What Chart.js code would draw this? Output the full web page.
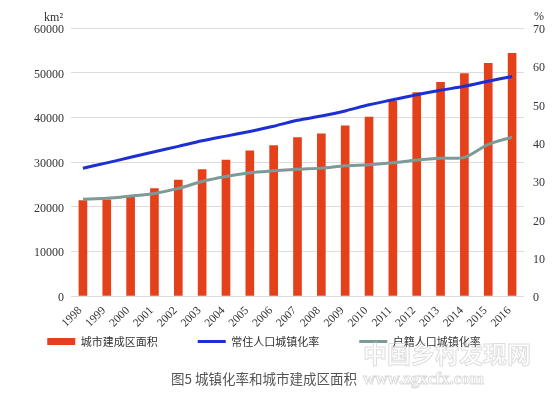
<!DOCTYPE html>
<html>
<head>
<meta charset="utf-8">
<script src="https://cdn.jsdelivr.net/npm/chart.js@4"></script>
<style>
    html, body { margin: 0; padding: 0; background: #fff; }
    #wrap { width: 557px; height: 398px; }
</style>
</head>
<body>
<div id="wrap"><canvas id="chart" width="557" height="398"></canvas></div>
<script>
// 城镇化率和城市建成区面积 (1998-2016)
const years = ['1998', '1999', '2000', '2001', '2002', '2003', '2004', '2005', '2006', '2007',
    '2008', '2009', '2010', '2011', '2012', '2013', '2014', '2015', '2016'];
const builtArea = [21380, 21525, 22439, 24027, 25973, 28308, 30406, 32521, 33660, 35470,
    36295, 38107, 40058, 43603, 45566, 47855, 49773, 52102, 54331];
const residentRate = [33.35, 34.78, 36.22, 37.66, 39.09, 40.53, 41.76, 42.99, 44.34, 45.89,
    46.99, 48.34, 49.95, 51.27, 52.57, 53.73, 54.77, 56.10, 57.35];
const hukouRate = [25.3, 25.5, 26.1, 26.8, 28.1, 29.9, 31.2, 32.2, 32.7, 33.1,
    33.4, 34.0, 34.3, 34.8, 35.5, 36.0, 36.2, 39.6, 41.5];
const seriesNames = ['城市建成区面积', '常住人口城镇化率', '户籍人口城镇化率'];
const leftTicks = [0, 10000, 20000, 30000, 40000, 50000, 60000];
const rightTicks = [0, 10, 20, 30, 40, 50, 60, 70];
const caption = '图5 城镇化率和城市建成区面积';

const RED = '#e4411b';
const BLUE = '#1c2fd2';
const GRAY = '#7c9a98';
const serif = "'Liberation Serif', 'DejaVu Serif', serif";
const cjk = "'Noto Sans CJK SC', sans-serif";

// unit labels + faint watermark
const extras = {
    id: 'extras',
    afterDraw(chart) {
        const ctx = chart.ctx;
        ctx.save();
        ctx.fillStyle = '#333';
        ctx.font = '12px ' + serif;
        ctx.textBaseline = 'middle';
        ctx.textAlign = 'right';
        ctx.fillText('km²', 63, 18);
        ctx.textAlign = 'center';
        ctx.fillText('%', 539, 17);

        ctx.strokeStyle = 'rgba(190,190,190,0.5)';
        ctx.lineWidth = 1;
        ctx.textAlign = 'left';
        ctx.font = 'bold 24px ' + cjk;
        ctx.strokeText('中国乡村发现网', 363, 354);
        ctx.font = 'bold 17px ' + serif;
        ctx.strokeText('www.zgxcfx.com', 363, 380);
        ctx.restore();
    }
};

new Chart(document.getElementById('chart').getContext('2d'), {
    data: {
        labels: years,
        datasets: [
            { type: 'bar', label: seriesNames[0], data: builtArea, yAxisID: 'y',
                backgroundColor: RED, barThickness: 8, order: 2 },
            { type: 'line', label: seriesNames[1], data: residentRate, yAxisID: 'y1',
                borderColor: BLUE, borderWidth: 3, pointRadius: 0, tension: 0.3, order: 1 },
            { type: 'line', label: seriesNames[2], data: hukouRate, yAxisID: 'y1',
                borderColor: GRAY, borderWidth: 3, pointRadius: 0, tension: 0.3, order: 1 }
        ]
    },
    options: {
        responsive: false,
        animation: false,
        devicePixelRatio: 1,
        // the original figure sits a little left of centre
        layout: { padding: { left: -29, right: 0, top: 28, bottom: 0 } },
        plugins: {
            tooltip: { enabled: false },
            legend: {
                position: 'bottom',
                align: 'center',
                labels: {
                    usePointStyle: true,
                    pointStyleWidth: 28,
                    padding: 40,
                    color: '#333',
                    font: { family: cjk, size: 11 },
                    generateLabels: () => [
                        { text: seriesNames[0], strokeStyle: RED, fillStyle: RED, lineWidth: 7, pointStyle: 'line', fontColor: '#333', datasetIndex: 0 },
                        { text: seriesNames[1], strokeStyle: BLUE, fillStyle: BLUE, lineWidth: 3, pointStyle: 'line', fontColor: '#333', datasetIndex: 1 },
                        { text: seriesNames[2], strokeStyle: GRAY, fillStyle: GRAY, lineWidth: 3, pointStyle: 'line', fontColor: '#333', datasetIndex: 2 }
                    ]
                }
            },
            title: {
                display: true,
                position: 'bottom',
                text: caption,
                color: '#555',
                font: { family: cjk, size: 13.5, weight: 'normal' },
                padding: { top: 14, bottom: 10.8 }
            }
        },
        scales: {
            x: {
                offset: true,
                grid: { display: false, drawTicks: false },
                border: { display: false },
                // mirrored so the labels are not clipped to the zero-height axis box
                ticks: { color: '#333', font: { family: serif, size: 11.5 }, maxRotation: 45, minRotation: 45,
                    autoSkip: false, mirror: true, padding: -17.8, labelOffset: 7 },
                afterFit: s => { s.height = 0; }
            },
            y: {
                position: 'left',
                min: 0, max: 60000,
                afterBuildTicks: s => { s.ticks = leftTicks.map(v => ({ value: v })); },
                grid: { color: '#dcdcdc', drawTicks: false, lineWidth: 1 },
                border: { display: false },
                ticks: { color: '#333', font: { family: serif, size: 12 }, padding: 7, labelOffset: 2,
                    callback: v => String(v) },
                afterFit: s => { s.width = 100; }
            },
            y1: {
                position: 'right',
                min: 0, max: 70,
                afterBuildTicks: s => { s.ticks = rightTicks.map(v => ({ value: v })); },
                grid: { display: false, drawTicks: false },
                border: { display: false },
                ticks: { color: '#333', font: { family: serif, size: 12 }, padding: 9, labelOffset: 2,
                    callback: v => String(v) },
                afterFit: s => { s.width = 33; }
            }
        }
    },
    plugins: [extras]
});
</script>
</body>
</html>
